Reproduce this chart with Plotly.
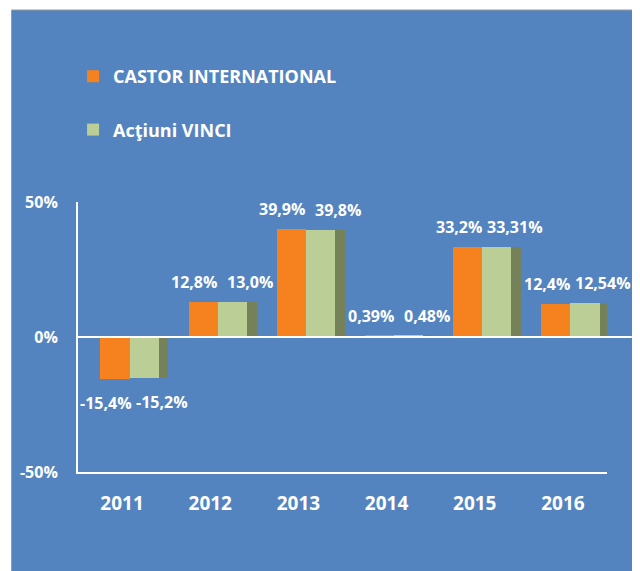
import plotly.graph_objects as go

years = ["2011", "2012", "2013", "2014", "2015", "2016"]
castor = [-15.4, 12.8, 39.9, 0.39, 33.2, 12.4]
vinci = [-15.2, 13.0, 39.8, 0.48, 33.31, 12.54]
series_names = ["CASTOR INTERNATIONAL", "Acţiuni VINCI"]
y_ticks = [-50, 0, 50]
y_ticktext = ["-50%", "0%", "50%"]

BLUE = "#5484BF"
ORANGE = "#F5811F"
GREEN = "#BACE95"
SHADE = "#758158"
FONT = "Open Sans"

# page has an 8px body margin; figure coordinates below are page - 8
W, H = 632, 563
L, T, PW, PH = 66, 194, 533, 270

def fmt(v):
    return str(v).replace(".", ",") + "%"

fig = go.Figure()
fig.add_bar(x=years, y=castor, name=series_names[0], marker=dict(color=ORANGE, line=dict(width=0)),
            width=0.33, offset=-0.245, legendgroup="a", hoverinfo="skip")
fig.add_bar(x=years, y=vinci, name=series_names[1], marker=dict(color=GREEN, line=dict(width=0)),
            width=0.33, offset=0.085, legendgroup="b", hoverinfo="skip")
# 3D side face of the second series
fig.add_bar(x=years, y=vinci, name="side", marker=dict(color=SHADE, line=dict(width=0)),
            width=0.11, offset=0.415, showlegend=False, hoverinfo="skip")

annotations = []
for vals, xs in ((castor, -16), (vinci, 40)):
    for i, v in enumerate(vals):
        pos = v >= 0
        annotations.append(dict(
            x=i, y=v, xref="x", yref="y", text=fmt(v), showarrow=False,
            xshift=xs, yshift=7 if pos else -11, yanchor="bottom" if pos else "top",
            font=dict(family=FONT, size=16, color="white", weight="bold")))

fig.update_layout(
    width=W, height=H,
    margin=dict(l=L, r=W - L - PW, t=T, b=H - T - PH),
    paper_bgcolor="white",
    plot_bgcolor="rgba(0,0,0,0)",
    barmode="overlay",
    bargap=0,
    annotations=annotations,
    shapes=[
        dict(type="rect", xref="paper", yref="paper",
             x0=(-1 - L) / PW, x1=(640 - L) / PW,
             y0=(T + PH - 580) / PH, y1=(T + PH - 2) / PH,
             fillcolor=BLUE, line=dict(color="#9A9A9A", width=1), layer="below"),
        dict(type="line", xref="paper", yref="y", x0=0, x1=(624 - L) / PW, y0=0, y1=0,
             line=dict(color="white", width=2), layer="above"),
    ],
    legend=dict(x=(61 - L) / PW, y=(T + PH - 50) / PH, xanchor="left", yanchor="top",
                bgcolor="rgba(0,0,0,0)", traceorder="grouped", tracegroupgap=27,
                font=dict(family=FONT, size=18, color="white", weight="bold")),
    xaxis=dict(type="category", range=[-0.5, 5.5], showgrid=False, zeroline=False,
               showline=True, linecolor="white", linewidth=2,
               ticks="outside", ticklen=13, tickcolor="rgba(0,0,0,0)",
               tickfont=dict(family=FONT, size=19, color="white", weight="bold")),
    yaxis=dict(range=[-50, 50], tickvals=y_ticks, ticktext=y_ticktext,
               showgrid=False, zeroline=False, showline=True, linecolor="white", linewidth=2,
               ticks="outside", ticklen=15, tickcolor="rgba(0,0,0,0)",
               tickfont=dict(family=FONT, size=16, color="white", weight="bold")),
)

fig.write_html("out.html")
